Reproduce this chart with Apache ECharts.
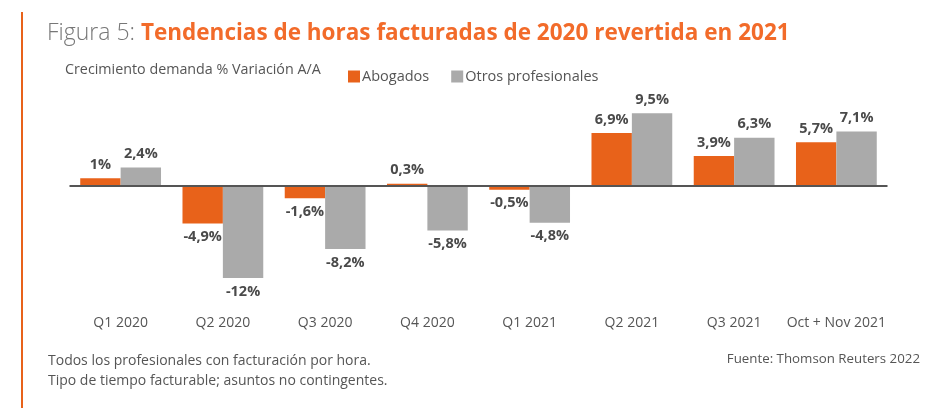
<!DOCTYPE html>
<html><head><meta charset="utf-8">
<script src="https://cdn.jsdelivr.net/npm/echarts@6/dist/echarts.min.js"></script>
<style>html,body{margin:0;padding:0;background:#fff}#c{width:932px;height:418px}</style>
</head><body><div id="c"></div>
<script>
const categories = ['Q1 2020','Q2 2020','Q3 2020','Q4 2020','Q1 2021','Q2 2021','Q3 2021','Oct + Nov 2021'];
const abogados = [1, -4.9, -1.6, 0.3, -0.5, 6.9, 3.9, 5.7];
const otros = [2.4, -12, -8.2, -5.8, -4.8, 9.5, 6.3, 7.1];
const seriesNames = ['Abogados', 'Otros profesionales'];

const FONT = '"Open Sans", sans-serif';
const fmt = p => String(p.value).replace('.', ',') + '%';
const lbl = {
  show: true, formatter: fmt, fontFamily: FONT, fontWeight: 'bold', fontSize: 14.5, color: '#4a4a4a', distance: 6,
  position: 'top'
};
function mk(vals) {
  return vals.map(v => ({ value: v, label: { position: v < 0 ? 'bottom' : 'top' } }));
}
const chart = echarts.init(document.getElementById('c'), null, { renderer: 'canvas' });
chart.setOption({
  animation: false,
  textStyle: { fontFamily: FONT },
  grid: { left: 69.5, width: 818, top: 109.3, height: 176.4 },
  legend: {
    left: 343, top: 64, itemWidth: 12, itemHeight: 12, itemGap: 22,
    icon: 'rect',
    textStyle: { fontFamily: FONT, fontSize: 14.5, color: '#555', padding: [0, 0, 0, -3] },
    data: seriesNames
  },
  xAxis: {
    type: 'category', data: categories,
    axisLine: { show: false, onZero: false }, axisTick: { show: false },
    axisLabel: { interval: 0, margin: 30, fontFamily: FONT, fontSize: 14, color: '#555' }
  },
  yAxis: { type: 'value', min: -13, max: 10, show: false, splitLine: { show: false } },
  series: [
    {
      name: seriesNames[0], type: 'bar', data: mk(abogados), barGap: '0%', barCategoryGap: '21%',
      itemStyle: { color: '#E8621A' }, label: lbl,
      markLine: {
        silent: true, symbol: 'none', label: { show: false },
        lineStyle: { color: '#555', width: 2, type: 'solid' },
        data: [{ yAxis: 0 }]
      }, z: 2
    },
    {
      name: seriesNames[1], type: 'bar', data: mk(otros),
      itemStyle: { color: '#AAAAAA' }, label: lbl, z: 2
    }
  ],
  graphic: [
    { type: 'rect', shape: { x: 21, y: 12, width: 2, height: 396 }, style: { fill: '#E8621A' } },
    {
      type: 'text', left: 47, top: 22,
      style: {
        text: '{a|Figura 5: }{b|Tendencias de horas facturadas de 2020 revertida en 2021}',
        rich: {
          a: { fontFamily: FONT, fontSize: 23, fill: '#777', fontWeight: 300 },
          b: { fontFamily: FONT, fontSize: 22.5, fill: '#F26B2A', fontWeight: 'bold' }
        }
      }
    },
    { type: 'text', left: 65, top: 63, style: { text: 'Crecimiento demanda % Variación A/A', fontFamily: FONT, fontSize: 14.3, fill: '#555' } },
    { type: 'text', left: 48, top: 351, style: { text: 'Todos los profesionales con facturación por hora.\nTipo de tiempo facturable; asuntos no contingentes.', fontFamily: FONT, fontSize: 14, fill: '#555', lineHeight: 20 } },
    { type: 'text', right: 12, top: 353, style: { text: 'Fuente: Thomson Reuters 2022', fontFamily: FONT, fontSize: 13.3, fill: '#555' } }
  ]
});
</script></body></html>
